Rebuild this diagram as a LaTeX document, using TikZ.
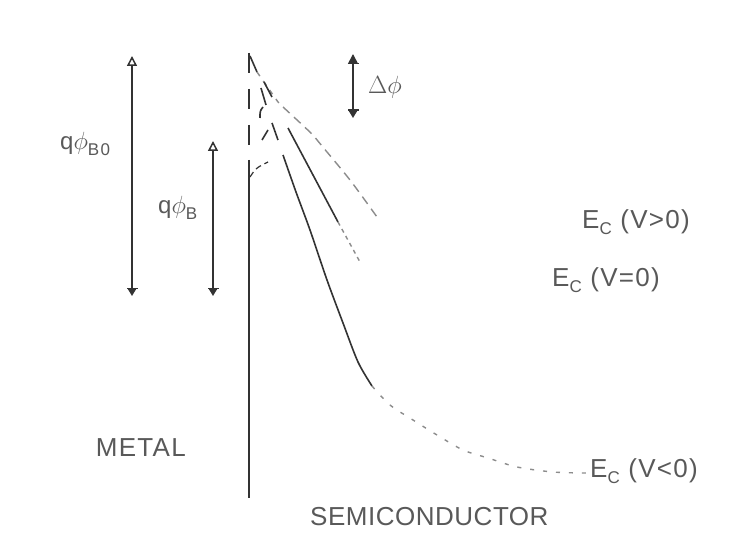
\documentclass[tikz,border=0pt]{standalone}
\usepackage{fontspec}
\setmainfont{Liberation Sans}
\usetikzlibrary{arrows.meta}
\definecolor{ink}{gray}{0.2}
\definecolor{faint}{gray}{0.55}
\definecolor{txt}{gray}{0.35}
\newcommand\lowsub[1]{\raisebox{-0.4ex}{\fontsize{17}{17}\selectfont #1}}
\newcommand\smallsub[1]{\raisebox{-0.45ex}{\fontsize{17}{17}\selectfont #1}}
\begin{document}
\begin{tikzpicture}[x=1pt,y=-1pt,
  band/.style={draw=ink,line width=1.6pt},
  faintband/.style={draw=faint,line width=1.4pt},
  lbl/.style={text=txt,inner sep=0pt,font=\fontsize{26}{30}\selectfont\addfontfeatures{LetterSpace=5}},
  qlbl/.style={text=txt,inner sep=0pt,font=\fontsize{24}{28}\selectfont\addfontfeatures{LetterSpace=8}},
  dim/.style={draw=ink,line width=1.5pt,{Triangle[open,width=10pt,length=10pt,line width=1.5pt]}-{Bar[width=11pt,line width=1.5pt]Triangle[width=8pt,length=7pt]}},
  dimsmall/.style={draw=ink,line width=1.5pt,{Triangle[width=9pt,length=9pt]Bar[width=11pt,line width=1.5pt]}-{Bar[width=11pt,line width=1.5pt]Triangle[width=8pt,length=7pt]}}]
\useasboundingbox (0,0) rectangle (737,559);
\fill[white] (0,0) rectangle (737,559);

% labels
\node[lbl,anchor=east] (metal) at (186,448) {METAL};
\node[lbl,anchor=west,font=\fontsize{26}{30}\selectfont\addfontfeatures{LetterSpace=2}] (semi) at (310,517) {SEMICONDUCTOR};
\node[lbl,anchor=west] (ecp) at (582,222) {E\lowsub{C} (V>0)};
\node[lbl,anchor=west] (ecz) at (552,280) {E\lowsub{C} (V=0)};
\node[lbl,anchor=west] (ecn) at (590,471) {E\lowsub{C} (V<0)};
\node[qlbl,anchor=west] (qb0) at (60,144) {q$\phi$\smallsub{B0}};
\node[qlbl,anchor=west] (qb) at (158,208) {q$\phi$\smallsub{B}};
\node[qlbl,anchor=west] (dphi) at (368,87) {$\Delta\phi$};

% dimension arrows
\coordinate (b0t) at (132,56);  \coordinate (b0b) at (132,296);
\coordinate (bt) at (213,141);  \coordinate (bb) at (213,296);
\coordinate (dt) at (353,54);   \coordinate (db) at (353,118);
\draw[dim] (b0t) -- (b0b);
\draw[dim] (bt) -- (bb);
\draw[dimsmall] (dt) -- (db);

% metal-semiconductor interface
\coordinate (i0) at (249,53); \coordinate (i1) at (249,147);
\coordinate (i2) at (249,160); \coordinate (i3) at (249,498);
\draw[band,dash pattern=on 20pt off 16pt] (i0) -- (i1);
\draw[band] (i2) -- (i3);

% E_C (V>0) : upper curve
\draw[band] (250,56) -- (257,72);
\draw[faintband,dash pattern=on 5pt off 6pt] (257,72) -- (278,102) -- (283,107);
\draw[faintband,dash pattern=on 9pt off 6pt] plot[smooth] coordinates {(283,107) (313,135) (322,146) (350,180) (377,217)};

% E_C (V=0) : middle curve
\draw[band] (264,82) -- (272,97);
\draw[band] (261,88) -- (266,105);
\draw[band] (263,107) .. controls (260,111) .. (260,118);
\draw[band] (288,128) -- (338,222);
\draw[faintband,dash pattern=on 4pt off 4pt] (338,222) -- (360,262);

% E_C (V<0) : lower curve
\draw[band] (272,123) -- (278,140);
\draw[band] (262,140) -- (268,130);
\draw[band] plot[smooth] coordinates {(283,155) (296,192) (310,230) (327,280) (343,323) (358,362) (372,386)};
\draw[faintband,dash pattern=on 4pt off 9pt] plot[smooth] coordinates {(372,386) (390,405) (413,420) (437,435) (463,450) (488,458) (517,467) (553,472) (586,473)};
\draw[ink,line width=1.2pt,dash pattern=on 6pt off 4pt] (250,177) .. controls (256,168) .. (268,162);
\end{tikzpicture}
\end{document}
